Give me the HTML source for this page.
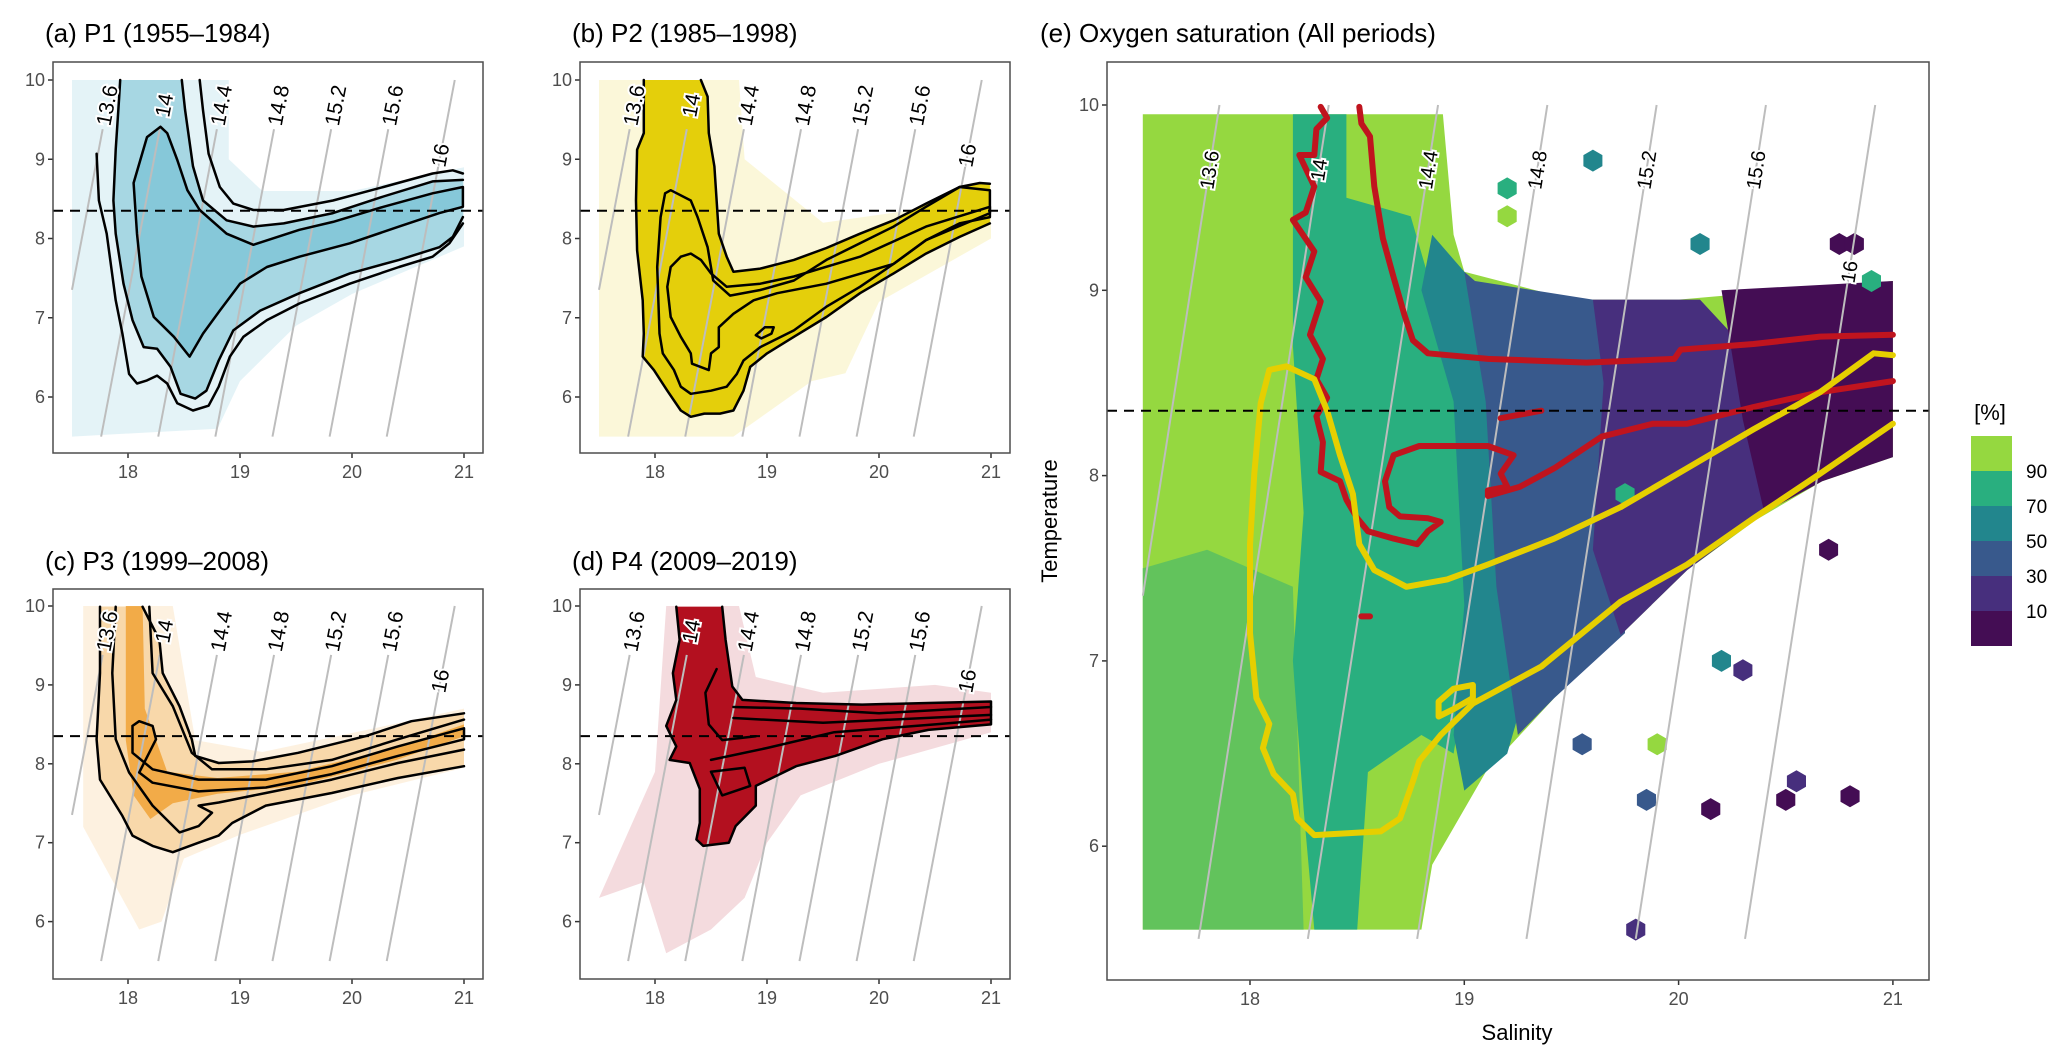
<!DOCTYPE html>
<html><head><meta charset="utf-8"><style>
body{margin:0;background:#fff}
svg{display:block;font-family:"Liberation Sans",sans-serif}
</style></head><body>
<svg id="fig" width="2067" height="1061" viewBox="0 0 2067 1061"></svg>
<script>
// ---------- shared data ----------
const isoLabels=["13.6","14","14.4","14.8","15.2","15.6","16"];
const isoBaseS=[17.25,17.76,18.27,18.78,19.29,19.8,20.31]; // salinity at T=5.5
const isoSlope=0.135;
const xTicks=[18,19,20,21];
const yTicks=[6,7,8,9,10];
const refTemp=8.35;
// ---------- panel a ----------
const aCloud=[[17.5,10],[18.9,10],[18.9,9.0],[19.2,8.6],[20,8.6],[21,8.9],[21,7.9],[20,7.3],[19.5,6.9],[19,6.2],[18.8,5.6],[17.5,5.5]];
const aC1L=[[17.72,9.07],[17.74,8.48],[17.81,8.06],[17.89,7.22],[17.95,6.80],[18.01,6.29],[18.08,6.17],[18.17,6.21],[18.26,6.27],[18.35,6.17],[18.44,5.92],[18.58,5.83],[18.72,5.89],[18.81,6.13],[18.91,6.51],[19.03,6.76],[19.24,6.97],[19.53,7.18],[19.98,7.43],[20.42,7.64],[20.72,7.77],[20.87,7.94],[20.99,8.19]];
const aC1U=[[18.64,10],[18.67,9.62],[18.72,9.07],[18.82,8.65],[18.94,8.44],[19.12,8.36],[19.39,8.36],[19.83,8.48],[20.28,8.65],[20.72,8.82],[20.90,8.86],[20.99,8.82]];
const aC2L=[[17.93,10],[17.92,9.75],[17.89,9.12],[17.87,8.48],[17.89,8.06],[17.96,7.43],[18.04,6.97],[18.14,6.63],[18.26,6.61],[18.38,6.38],[18.47,6.04],[18.60,5.98],[18.70,6.08],[18.81,6.46],[18.94,6.84],[19.18,7.09],[19.53,7.31],[19.98,7.56],[20.42,7.73],[20.78,7.89],[20.90,8.02],[20.99,8.27]];
const aC2U=[[18.48,10],[18.51,9.62],[18.58,8.91],[18.67,8.48],[18.88,8.23],[19.12,8.15],[19.39,8.19],[19.83,8.32],[20.28,8.53],[20.72,8.72],[20.99,8.74]];
const aC3=[[18.29,9.41],[18.17,9.28],[18.05,8.70],[18.08,8.06],[18.12,7.52],[18.23,7.01],[18.41,6.76],[18.55,6.51],[18.67,6.80],[18.82,7.09],[19.00,7.43],[19.24,7.64],[19.53,7.77],[19.98,7.94],[20.42,8.15],[20.78,8.32],[20.99,8.40],[20.99,8.65],[20.72,8.57],[20.28,8.40],[19.83,8.21],[19.53,8.11],[19.12,7.92],[18.88,8.06],[18.64,8.36],[18.53,8.61],[18.44,8.99],[18.35,9.33],[18.29,9.41]];
// ---------- panel b ----------
const bCloud=[[17.5,10],[18.75,10],[18.8,9.0],[19.5,8.2],[20.5,8.4],[21,8.7],[21,8.0],[20,7.2],[19.7,6.3],[19.4,6.2],[19,5.8],[18.7,5.5],[17.5,5.5]];
const bC1L=[[17.90,10],[17.90,9.33],[17.84,9.12],[17.83,8.48],[17.84,7.85],[17.89,7.22],[17.90,6.80],[17.89,6.51],[17.99,6.34],[18.11,6.08],[18.23,5.83],[18.32,5.75],[18.44,5.79],[18.58,5.79],[18.70,5.83],[18.79,6.08],[18.85,6.38],[19.00,6.55],[19.24,6.76],[19.53,7.01],[19.83,7.31],[20.13,7.56],[20.42,7.81],[20.72,8.02],[20.99,8.19]];
const bC1U=[[18.41,10],[18.47,9.79],[18.48,9.33],[18.53,8.91],[18.57,8.06],[18.64,7.77],[18.70,7.58],[18.94,7.62],[19.24,7.73],[19.53,7.88],[19.83,8.06],[20.13,8.23],[20.42,8.44],[20.72,8.65],[20.90,8.70],[20.99,8.69]];
const bC2=[[18.09,8.57],[18.05,8.27],[18.02,7.64],[18.04,6.80],[18.07,6.55],[18.17,6.34],[18.23,6.13],[18.32,6.04],[18.50,6.08],[18.64,6.13],[18.73,6.29],[18.79,6.46],[18.94,6.63],[19.24,6.84],[19.53,7.14],[19.83,7.39],[20.13,7.68],[20.42,7.98],[20.72,8.19],[20.99,8.27],[20.99,8.61],[20.72,8.65],[20.42,8.40],[20.13,8.15],[19.83,7.94],[19.53,7.73],[19.24,7.47],[18.94,7.35],[18.67,7.28],[18.52,7.47],[18.47,7.89],[18.38,8.27],[18.32,8.48],[18.14,8.61],[18.09,8.57]];
const bC3=[[18.23,7.77],[18.14,7.64],[18.11,7.39],[18.14,7.01],[18.23,6.76],[18.32,6.55],[18.33,6.42],[18.48,6.34],[18.50,6.55],[18.57,6.63],[18.57,6.88],[18.70,7.05],[18.88,7.22],[19.09,7.31],[19.53,7.43],[20.13,7.68],[20.42,7.98],[20.99,8.32],[20.99,8.40],[20.42,8.15],[19.83,7.77],[19.24,7.52],[18.94,7.43],[18.64,7.39],[18.50,7.56],[18.41,7.73],[18.32,7.81],[18.23,7.77]];
const bLoop=[[18.90,6.78],[18.98,6.88],[19.06,6.88],[19.04,6.80],[18.95,6.74],[18.90,6.78]];
// ---------- panel c ----------
const cCloud=[[17.6,10],[18.4,10],[18.6,8.3],[19.2,8.15],[20.2,8.45],[21,8.7],[21,7.95],[20,7.6],[19,7.1],[18.5,6.8],[18.3,6.0],[18.1,5.9],[17.6,7.2]];
const cBand=[[17.98,10],[18.13,10],[18.15,8.7],[18.35,7.9],[18.8,7.82],[19.5,7.9],[20.4,8.2],[21,8.5],[21,8.35],[20.4,8.05],[19.5,7.72],[18.8,7.62],[18.4,7.5],[18.2,7.3],[18.05,7.6],[17.98,8.3]];
const cC1L=[[17.75,9.99],[17.75,9.15],[17.72,8.31],[17.75,7.80],[17.95,7.34],[18.04,7.09],[18.22,6.96],[18.40,6.88],[18.63,7.00],[18.81,7.09],[18.93,7.25],[19.23,7.47],[19.82,7.63],[20.41,7.82],[21.0,7.97]];
const cC1U=[[18.13,9.99],[18.28,9.57],[18.31,9.15],[18.46,8.73],[18.57,8.31],[18.60,8.10],[18.81,8.01],[19.11,8.03],[19.52,8.14],[20.12,8.35],[20.53,8.54],[21.0,8.64]];
const cC2L=[[17.89,9.99],[17.86,9.15],[17.89,8.31],[18.01,7.89],[18.22,7.47],[18.46,7.13],[18.63,7.21],[18.75,7.38],[18.63,7.47],[18.81,7.51],[19.23,7.63],[19.82,7.80],[20.41,8.01],[21.0,8.18]];
const cC2U=[[18.19,9.99],[18.22,9.15],[18.40,8.73],[18.57,8.14],[18.75,7.93],[19.23,7.93],[19.82,8.05],[20.41,8.31],[21.0,8.56]];
const cC3=[[18.04,8.48],[18.10,8.54],[18.22,8.48],[18.25,8.31],[18.10,7.89],[18.22,7.76],[18.63,7.65],[19.23,7.70],[19.82,7.87],[20.41,8.10],[21.0,8.31],[21.0,8.45],[20.41,8.22],[19.82,7.97],[19.23,7.80],[18.63,7.80],[18.22,7.93],[18.04,8.14],[18.04,8.48]];
// ---------- panel d ----------
const dCloud=[[17.5,6.3],[18.0,7.9],[18.1,10],[18.75,10],[18.9,9.1],[19.5,8.9],[20.5,9.0],[21,8.9],[21,8.4],[20,8.0],[19.3,7.6],[19.0,7.0],[18.8,6.3],[18.5,5.9],[18.1,5.6],[17.9,6.5]];
const dFill=[[18.19,9.99],[18.22,9.57],[18.16,9.15],[18.19,8.81],[18.10,8.48],[18.19,8.22],[18.13,8.05],[18.31,8.01],[18.40,7.68],[18.40,7.25],[18.37,7.04],[18.43,6.96],[18.66,7.00],[18.72,7.21],[18.90,7.47],[18.90,7.72],[19.26,7.97],[19.61,8.10],[20.03,8.31],[20.44,8.43],[21.0,8.50],[21.0,8.79],[20.44,8.77],[19.85,8.75],[19.26,8.77],[18.78,8.81],[18.69,8.98],[18.63,9.57],[18.60,9.99]];
const dL1=[[18.7,8.72],[19.3,8.70],[20.0,8.64],[21,8.72]];
const dL2=[[18.7,8.58],[19.5,8.52],[21,8.62]];
const dL3=[[18.5,8.05],[19.0,8.2],[19.6,8.4],[20.5,8.5],[21,8.56]];
const dL4=[[18.55,9.2],[18.45,8.9],[18.48,8.5],[18.6,8.3],[18.9,8.35]];
const dL5=[[18.5,7.9],[18.8,7.95],[18.85,7.72],[18.6,7.6],[18.5,7.9]];
// ---------- panel e ----------
const eEnvelope=[[17.5,9.95],[18.9,9.95],[18.95,9.3],[19.0,9.1],[19.5,8.95],[20.0,8.95],[21.0,9.05],[21.0,8.1],[20.67,7.97],[20.36,7.76],[20.04,7.49],[19.73,7.14],[19.42,6.8],[19.1,6.4],[18.95,6.1],[18.85,5.9],[18.8,5.55],[17.5,5.55]];
const eMixLeft=[[17.5,7.5],[17.8,7.6],[18.2,7.4],[18.25,5.55],[17.5,5.55]];
const eBand70=[[18.2,9.95],[18.45,9.95],[18.45,9.5],[18.75,9.4],[18.85,9.0],[18.95,8.6],[19.05,7.2],[18.95,6.5],[18.8,6.6],[18.55,6.4],[18.5,5.55],[18.3,5.55],[18.25,6.2],[18.2,7.0],[18.25,7.8],[18.2,8.7]];
const eBand50=[[18.85,9.3],[19.0,9.1],[19.05,8.9],[19.1,8.6],[19.15,7.5],[19.3,6.9],[19.2,6.5],[19.0,6.3],[18.95,6.6],[19.0,7.3],[18.95,8.4],[18.8,9.0]];
const eBand30=[[19.05,9.05],[19.6,8.95],[19.8,8.6],[19.75,7.8],[19.75,7.15],[19.42,6.8],[19.25,6.6],[19.15,7.4],[19.1,8.4],[19.0,9.1]];
const eBand10=[[19.6,8.95],[20.1,8.95],[20.3,8.7],[20.35,8.1],[20.4,7.8],[20.04,7.49],[19.73,7.14],[19.6,7.6],[19.65,8.5]];
const eBand0=[[20.2,9.0],[21.0,9.05],[21.0,8.1],[20.67,7.97],[20.4,7.8],[20.3,8.3]];
const eHexS=[19.6,19.2,19.2,20.1,20.75,20.82,20.9,19.9,20.3,20.5,20.8,19.55,19.85,20.15,20.55,19.8,20.7,19.75,20.2];
const eHexT=[9.7,9.55,9.4,9.25,9.25,9.25,9.05,6.55,6.95,6.25,6.27,6.55,6.25,6.2,6.35,5.55,7.6,7.9,7.0];
const eHexBand=[2,1,0,2,5,5,1,0,4,5,5,3,3,5,4,4,5,1,2];
const eRed1=[[18.33,9.99],[18.36,9.93],[18.31,9.87],[18.30,9.73],[18.23,9.73],[18.30,9.56],[18.26,9.42],[18.20,9.38],[18.30,9.21],[18.26,9.07],[18.33,8.94],[18.28,8.76],[18.34,8.63],[18.31,8.52],[18.36,8.42],[18.31,8.32],[18.34,8.18],[18.33,8.02],[18.42,7.97],[18.45,7.87],[18.50,7.77],[18.55,7.70],[18.67,7.66],[18.78,7.63],[18.83,7.70],[18.89,7.75],[18.83,7.77],[18.70,7.78],[18.65,7.83],[18.63,7.97],[18.67,8.11],[18.79,8.16],[19.11,8.16],[19.23,8.11],[19.17,8.01],[19.20,7.94],[19.11,7.92],[19.11,7.89],[19.26,7.94],[19.42,8.04],[19.64,8.21],[19.88,8.28],[20.04,8.28],[20.35,8.37],[20.66,8.45],[21.0,8.51]];
const eRed2=[[18.51,9.99],[18.52,9.90],[18.56,9.83],[18.58,9.56],[18.62,9.28],[18.67,9.07],[18.72,8.87],[18.76,8.73],[18.83,8.66],[19.11,8.63],[19.57,8.61],[19.98,8.63],[20.01,8.68],[20.35,8.71],[20.66,8.75],[21.0,8.76]];
const eRed3=[[19.17,8.31],[19.36,8.35]];
const eRed4=[[18.52,7.24],[18.56,7.24]];
const eYellow=[[21.0,8.65],[20.91,8.66],[20.66,8.45],[20.35,8.25],[20.04,8.04],[19.73,7.83],[19.42,7.66],[19.11,7.52],[18.92,7.44],[18.73,7.40],[18.58,7.49],[18.51,7.63],[18.48,7.90],[18.42,8.11],[18.36,8.35],[18.30,8.52],[18.17,8.59],[18.09,8.57],[18.05,8.39],[18.02,8.01],[18.0,7.63],[18.0,7.15],[18.03,6.80],[18.09,6.66],[18.06,6.53],[18.11,6.39],[18.20,6.28],[18.22,6.15],[18.30,6.06],[18.61,6.08],[18.70,6.15],[18.76,6.35],[18.79,6.46],[18.89,6.60],[19.04,6.77],[19.36,6.97],[19.73,7.32],[20.04,7.52],[20.35,7.77],[20.66,8.01],[21.0,8.28]];
const eYellowLoop=[[18.88,6.78],[18.95,6.85],[19.04,6.87],[19.04,6.80],[18.95,6.74],[18.88,6.70],[18.88,6.78]];
const legendLabels=["90","70","50","30","10"];
const bandColors=["#95d840","#29af7f","#22868d","#38598c","#472f7d","#440d54"];

const NS="http://www.w3.org/2000/svg";
const svg=document.getElementById('fig');
function mk(tag,attrs,parent){const e=document.createElementNS(NS,tag);for(const k in attrs)e.setAttribute(k,attrs[k]);(parent||svg).appendChild(e);return e;}
function pts(arr,sx,ty){return arr.map(p=>sx(p[0]).toFixed(1)+","+ty(p[1]).toFixed(1)).join(" ");}

function makePanel(o){
  const g=mk('g',{});
  
  
  const sx=S=>o.x18+(S-18)*o.ux, ty=T=>o.y10+(10-T)*o.uy;
  const clipId='clip-'+o.name;
  const cp=mk('clipPath',{id:clipId},g);
  mk('rect',{x:o.bx0,y:o.by0,width:o.bx1-o.bx0,height:o.by1-o.by0},cp);
  const inner=mk('g',{'clip-path':'url(#'+clipId+')'},g);
  const t=mk('text',{x:o.tx,y:o.ty,'font-size':o.tfs,fill:'#000'},g);
  t.textContent=o.title;
  
  
  xTicks.forEach(v=>{
    mk('line',{x1:sx(v),x2:sx(v),y1:o.by1,y2:o.by1+5,stroke:'#333','stroke-width':1.5},g);
    const l=mk('text',{x:sx(v),y:o.by1+25,'font-size':18,fill:'#4d4d4d','text-anchor':'middle'},g);
    l.textContent=v;
    
    
  });
  yTicks.forEach(v=>{
    mk('line',{x1:o.bx0-5,x2:o.bx0,y1:ty(v),y2:ty(v),stroke:'#333','stroke-width':1.5},g);
    const l=mk('text',{x:o.bx0-8,y:ty(v)+6,'font-size':18,fill:'#4d4d4d','text-anchor':'end'},g);
    l.textContent=v;
    
    
  });
  return {g,inner,sx,ty};
}
function drawIso(P,o){
  const ang=-Math.atan2(1,isoSlope*o.ux/o.uy)*180/Math.PI;
  isoBaseS.forEach((s0,i)=>{
    const Sat=T=>s0+isoSlope*(T-5.5);
    let Tstart=5.5; if(Sat(5.5)<17.5) Tstart=5.5+(17.5-s0)/isoSlope;
    const tl=(i===6)?o.lab16:o.labT;
    const Tend=(i===6||o.full)?10:tl-0.3;
    const ln=mk('line',{x1:P.sx(Sat(Tstart)),y1:P.ty(Tstart),x2:P.sx(Sat(Tend)),y2:P.ty(Tend),stroke:'#bdbdbd','stroke-width':2},P.inner);
    
    
    const x=P.sx(Sat(tl)), y=P.ty(tl);
    const tx=mk('text',{x:x,y:y+7,'font-size':o.lfs,'text-anchor':'middle',fill:'#000',stroke:'#fff','stroke-width':4,'paint-order':'stroke',transform:`rotate(${ang} ${x} ${y})`},P.g);
    tx.textContent=isoLabels[i];
    
    
  });
}
function poly(P,arr,attrs,name,closed){
  const e=mk(closed?'polygon':'polyline',Object.assign({points:pts(arr,P.sx,P.ty),'stroke-linejoin':'round','stroke-linecap':'round'},attrs),P.inner);
  
  
  return e;
}
function frameAndDash(P,o){
  const d=mk('line',{x1:o.bx0,x2:o.bx1,y1:P.ty(refTemp),y2:P.ty(refTemp),stroke:'#000','stroke-width':2,'stroke-dasharray':'10,7'},P.g);
  
  
  const f=mk('rect',{x:o.bx0,y:o.by0,width:o.bx1-o.bx0,height:o.by1-o.by0,fill:'none',stroke:'#4d4d4d','stroke-width':1.5},P.g);
  
  
}
function smallPanel(o,cloud,dense,lines,col){
  const P=makePanel(o);
  poly(P,cloud,{fill:col,'fill-opacity':0.15,stroke:'none'},'scatter-sparse',true);
  poly(P,dense,{fill:col,'fill-opacity':o.denseOp,stroke:'none'},'scatter-dense',true);
  if(o.core) poly(P,o.core,{fill:col,'fill-opacity':o.coreOp,stroke:'none'},'scatter-core',true);
  drawIso(P,o);
  lines.forEach(l=>poly(P,l,{fill:'none',stroke:'#000','stroke-width':2.5},'density-contour',false));
  frameAndDash(P,o);
}
const base={ux:112,uy:79.25,bx0:53,bx1:483,tfs:26,lfs:21,labT:9.68,lab16:9.05,denseOp:0.6,coreOp:0.9};
smallPanel(Object.assign({},base,{name:'panel-a',x18:128,y10:80,by0:62,by1:453,tx:45,ty:42,title:'(a) P1 (1955\u20131984)',core:aC3,denseOp:0.4,coreOp:0.35}),
  aCloud,aC2L.concat(aC2U.slice().reverse()),[aC1L,aC1U,aC2L,aC2U,aC3],'#4bacc6');
smallPanel(Object.assign({},base,{name:'panel-b',x18:655,y10:80,bx0:580,bx1:1010,by0:62,by1:453,tx:572,ty:42,title:'(b) P2 (1985\u20131998)',denseOp:0.95}),
  bCloud,bC1L.concat(bC1U.slice().reverse()),[bC1L,bC1U,bC2,bC3,bLoop],'#e3cc00');
smallPanel(Object.assign({},base,{name:'panel-c',x18:128,y10:606,uy:78.9,by0:589,by1:979,tx:45,ty:570,title:'(c) P3 (1999\u20132008)',denseOp:0.3,core:cBand,coreOp:0.8}),
  cCloud,cC1L.concat(cC1U.slice().reverse()),[cC1L,cC1U,cC2L,cC2U,cC3],'#f0a030');
smallPanel(Object.assign({},base,{name:'panel-d',x18:655,y10:606,uy:78.9,bx0:580,bx1:1010,by0:589,by1:979,tx:572,ty:570,title:'(d) P4 (2009\u20132019)',denseOp:1}),
  dCloud,dFill,[dFill,dL1,dL2,dL3,dL4,dL5],'#b3101f');

// ---------- panel e ----------
const oe={name:'panel-e',x18:1250,y10:105,ux:214.3,uy:185.3,bx0:1107,bx1:1929,by0:62,by1:980,tx:1040,ty:42,title:'(e) Oxygen saturation (All periods)',tfs:26,lfs:20,labT:9.65,lab16:9.1,full:true};
const PE=makePanel(oe);
poly(PE,eEnvelope,{fill:bandColors[0],stroke:'none'},'hex-region-90',true);
poly(PE,eMixLeft,{fill:'#62c35c',stroke:'none'},'hex-region-mixed',true);
poly(PE,eBand70,{fill:bandColors[1],stroke:'none'},'hex-region-70',true);
poly(PE,eBand50,{fill:bandColors[2],stroke:'none'},'hex-region-50',true);
poly(PE,eBand30,{fill:bandColors[3],stroke:'none'},'hex-region-30',true);
poly(PE,eBand10,{fill:bandColors[4],stroke:'none'},'hex-region-10',true);
poly(PE,eBand0,{fill:bandColors[5],stroke:'none'},'hex-region-0',true);
eHexS.forEach((s,i)=>{
  const cx=PE.sx(s), cy=PE.ty(eHexT[i]), r=11;
  const p=[];for(let k=0;k<6;k++){const a=Math.PI/6+k*Math.PI/3;p.push((cx+r*Math.cos(a)).toFixed(1)+","+(cy+r*Math.sin(a)).toFixed(1));}
  const h=mk('polygon',{points:p.join(" "),fill:bandColors[eHexBand[i]]},PE.inner);
  
  
});
drawIso(PE,oe);
[eRed1,eRed2,eRed3,eRed4].forEach(l=>poly(PE,l,{fill:'none',stroke:'#c0141e','stroke-width':6},'oxygen-contour-red',false));
[eYellow,eYellowLoop].forEach(l=>poly(PE,l,{fill:'none',stroke:'#e6cf00','stroke-width':6},'oxygen-contour-yellow',false));
frameAndDash(PE,oe);
const xt=mk('text',{x:1517,y:1040,'font-size':22,'text-anchor':'middle',fill:'#000'});
xt.textContent='Salinity';


const yt=mk('text',{x:1057,y:521,'font-size':22,'text-anchor':'middle',fill:'#000',transform:'rotate(-90 1057 521)'});
yt.textContent='Temperature';


const lg=mk('g',{});


const lt=mk('text',{x:1990,y:420,'font-size':22,'text-anchor':'middle',fill:'#000'},lg);
lt.textContent='[%]';


bandColors.forEach((c,i)=>{
  const r=mk('rect',{x:1971,y:436+35*i,width:41,height:35,fill:c},lg);
  
  
});
legendLabels.forEach((v,i)=>{
  const t=mk('text',{x:2026,y:478+35*i,'font-size':19,fill:'#000'},lg);
  t.textContent=v;
  
  
});
</script>
</body></html>
